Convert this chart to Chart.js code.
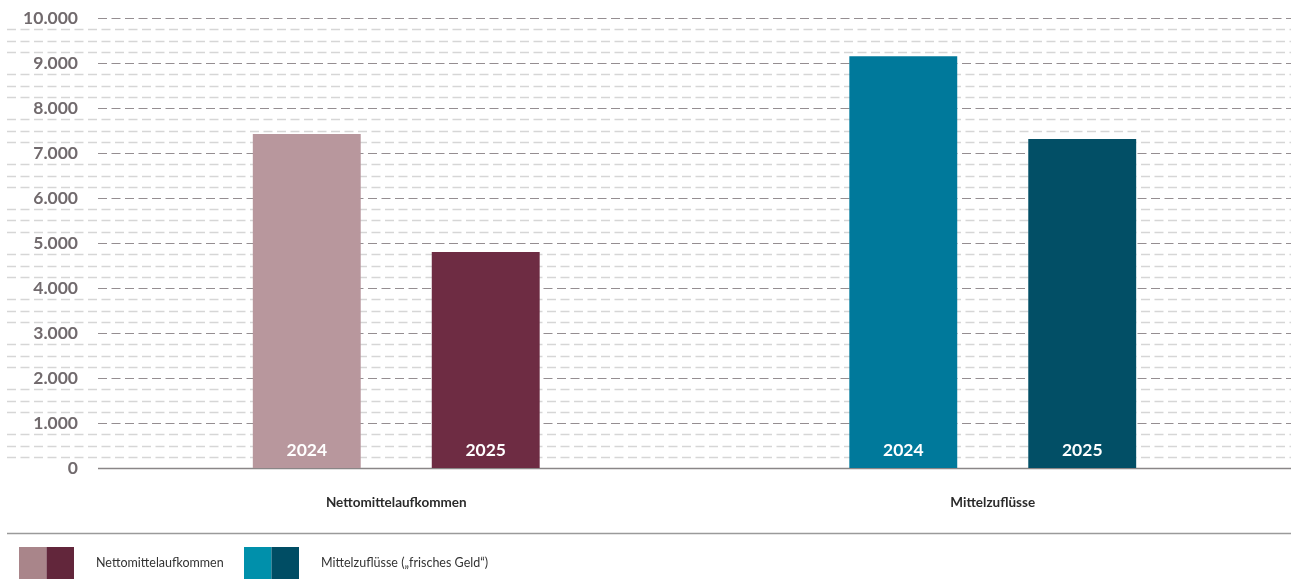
<!DOCTYPE html>
<html lang="de">
<head>
<meta charset="utf-8">
<script src="https://cdn.jsdelivr.net/npm/chart.js@4.4.1/dist/chart.umd.min.js"></script>
<style>
  html, body { margin: 0; padding: 0; background: #fff; }
  #wrap { width: 1291px; height: 586px; }
</style>
</head>
<body>
<div id="wrap"><canvas id="fund-flows" width="1291" height="586"></canvas></div>
<script>
const categories = ['Nettomittelaufkommen', 'Mittelzuflüsse'];
const years = ['2024', '2025'];
const values2024 = [7420, 9150];
const values2025 = [4800, 7310];
const legendLabels = ['Nettomittelaufkommen', 'Mittelzuflüsse („frisches Geld“)'];

const colors2024 = ['#b8979d', '#00799b'];
const colors2025 = ['#6e2c43', '#024f66'];
const legendColors = [['#a9858a', '#62263b'], ['#0090ab', '#004d64']];

const FONT = 'Lato, "Open Sans", sans-serif';

function formatThousands(v) {
  return String(v).replace(/\B(?=(\d{3})+(?!\d))/g, '.');
}

// dashed grid: dark lines every 1.000 inside the plot, light ones every 250 across the full width
const gridLines = {
  id: 'gridLines',
  beforeDatasetsDraw(chart) {
    const { ctx, chartArea, scales } = chart;
    const y = scales.y;
    ctx.save();
    y.ticks.forEach((t) => {
      const py = Math.round(y.getPixelForValue(t.value)) + 0.5;
      if (t.value === 0) return;
      const major = t.value % 1000 === 0;
      ctx.beginPath();
      ctx.setLineDash([9, 4.5]);
      ctx.lineWidth = major ? 1.2 : 1.4;
      ctx.strokeStyle = major ? '#958e91' : '#d6d6d6';
      ctx.moveTo(major ? chartArea.left : 7, py);
      ctx.lineTo(chart.width, py);
      ctx.stroke();
    });
    // baseline
    const py0 = Math.round(y.getPixelForValue(0)) + 0.5;
    ctx.setLineDash([]);
    ctx.strokeStyle = '#8a8687';
    ctx.lineWidth = 1.5;
    ctx.beginPath();
    ctx.moveTo(chartArea.left, py0);
    ctx.lineTo(chart.width, py0);
    ctx.stroke();
    ctx.restore();
  }
};

// year captions at the foot of each bar
const barYears = {
  id: 'barYears',
  afterDatasetsDraw(chart) {
    const { ctx, chartArea } = chart;
    ctx.save();
    ctx.font = 'bold 17.5px ' + FONT;
    ctx.fillStyle = '#ffffff';
    ctx.textAlign = 'center';
    ctx.textBaseline = 'middle';
    chart.data.datasets.forEach((ds, i) => {
      chart.getDatasetMeta(i).data.forEach((bar) => {
        ctx.fillText(ds.label, bar.x, chartArea.bottom - 18);
      });
    });
    ctx.restore();
  }
};

// separator rule and two-tone legend below the chart
const splitLegend = {
  id: 'splitLegend',
  afterDraw(chart) {
    const { ctx } = chart;
    ctx.save();
    ctx.strokeStyle = '#9a9a9a';
    ctx.lineWidth = 1.5;
    ctx.beginPath();
    ctx.moveTo(7, 533.5);
    ctx.lineTo(chart.width, 533.5);
    ctx.stroke();

    const starts = [19, 244];
    ctx.font = '12.5px ' + FONT;
    ctx.textBaseline = 'middle';
    ctx.textAlign = 'left';
    legendLabels.forEach((label, i) => {
      const x = starts[i];
      ctx.fillStyle = legendColors[i][0];
      ctx.fillRect(x, 547, 27.5, 32);
      ctx.fillStyle = legendColors[i][1];
      ctx.fillRect(x + 27.5, 547, 27.5, 32);
      ctx.fillStyle = '#333333';
      ctx.fillText(label, x + 77, 563);
    });
    ctx.restore();
  }
};

new Chart(document.getElementById('fund-flows'), {
  type: 'bar',
  data: {
    labels: categories,
    datasets: [
      { label: years[0], data: values2024, backgroundColor: colors2024 },
      { label: years[1], data: values2025, backgroundColor: colors2025 },
    ],
  },
  options: {
    responsive: false,
    animation: false,
    events: [],
    layout: { padding: { top: 18, left: 0, right: 0, bottom: 0 } },
    datasets: {
      bar: { categoryPercentage: 0.6, barPercentage: 0.603 },
    },
    plugins: {
      legend: { display: false },
      tooltip: { enabled: false },
    },
    scales: {
      x: {
        grid: { display: false, drawTicks: false },
        border: { display: false },
        ticks: {
          padding: 27,
          color: '#2b2b2b',
          font: { family: FONT, size: 13.5, weight: 'bold' },
        },
        afterFit(scale) {
          scale.height = 118;
        },
      },
      y: {
        min: 0,
        max: 10000,
        grid: { display: false, drawTicks: false },
        border: { display: false },
        ticks: {
          stepSize: 250,
          autoSkip: false,
          padding: 20,
          color: '#716a6d',
          font: { family: FONT, size: 17.5, weight: 'bold' },
          callback: (v) => (v % 1000 === 0 ? formatThousands(v) : ''),
        },
        afterFit(scale) {
          scale.width = 98;
          scale.paddingTop = 0;
          scale.paddingBottom = 0;
        },
      },
    },
  },
  plugins: [gridLines, barYears, splitLegend],
});
</script>
</body>
</html>
